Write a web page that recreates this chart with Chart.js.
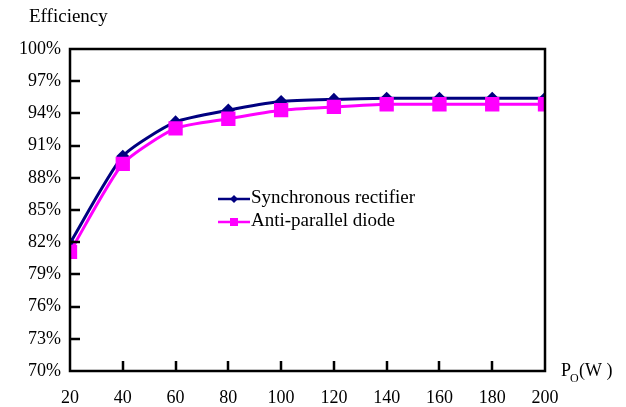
<!DOCTYPE html>
<html>
<head>
<meta charset="utf-8">
<script src="https://cdn.jsdelivr.net/npm/chart.js@4"></script>
<style>
  html, body { margin: 0; padding: 0; background: #fff; }
  #wrap { width: 626px; height: 407px; }
</style>
</head>
<body>
<div id="wrap"><canvas id="chart"></canvas></div>
<script>
const powerW = [20, 40, 60, 80, 100, 120, 140, 160, 180, 200];
const syncRect = [81.9, 90.0, 93.2, 94.3, 95.1, 95.3, 95.4, 95.4, 95.4, 95.4];
const antiDiode = [81.1, 89.3, 92.6, 93.5, 94.3, 94.6, 94.85, 94.85, 94.85, 94.85];
const yTicks = [70, 73, 76, 79, 82, 85, 88, 91, 94, 97, 100];

const FONT = 'Liberation Serif, Times New Roman, serif';

const toPoints = (vals) => vals.map((v, i) => ({ x: powerW[i], y: v }));

// frame, inward ticks, titles, legend
const decorations = {
  id: 'decorations',
  afterDatasetsDraw(chart) {
    const { ctx, chartArea: a, scales } = chart;
    ctx.save();
    ctx.strokeStyle = '#000';
    ctx.lineWidth = 2.5;
    ctx.strokeRect(a.left, a.top, a.right - a.left, a.bottom - a.top);

    ctx.beginPath();
    yTicks.slice(1, -1).forEach(v => {
      const y = Math.round(scales.y.getPixelForValue(v));
      ctx.moveTo(a.left, y);
      ctx.lineTo(a.left + 10, y);
    });
    powerW.slice(1, -1).forEach(v => {
      const x = Math.round(scales.x.getPixelForValue(v));
      ctx.moveTo(x, a.bottom);
      ctx.lineTo(x, a.bottom - 10);
    });
    ctx.stroke();

    ctx.fillStyle = '#000';
    ctx.textBaseline = 'alphabetic';
    ctx.textAlign = 'left';
    ctx.font = '19px ' + FONT;
    ctx.fillText('Efficiency', 29, 22);

    ctx.font = '18px ' + FONT;
    ctx.fillText('P', 561, 376);
    ctx.font = '12px ' + FONT;
    ctx.fillText('O', 570, 382);
    ctx.font = '18px ' + FONT;
    ctx.fillText('(W )', 579, 376);

    // legend
    const rows = [
      { ds: chart.data.datasets[0], y: 199 },
      { ds: chart.data.datasets[1], y: 222 },
    ];
    rows.forEach(r => {
      ctx.strokeStyle = r.ds.borderColor;
      ctx.lineWidth = 2.5;
      ctx.beginPath();
      ctx.moveTo(218, r.y);
      ctx.lineTo(250, r.y);
      ctx.stroke();
      ctx.fillStyle = r.ds.pointBackgroundColor;
      ctx.beginPath();
      if (r.ds.pointStyle === 'rect') {
        ctx.rect(234 - 4, r.y - 4, 8, 8);
      } else {
        ctx.moveTo(234, r.y - 4);
        ctx.lineTo(238, r.y);
        ctx.lineTo(234, r.y + 4);
        ctx.lineTo(230, r.y);
        ctx.closePath();
      }
      ctx.fill();
      ctx.fillStyle = '#000';
      ctx.font = '19px ' + FONT;
      ctx.textBaseline = 'middle';
      ctx.fillText(r.ds.label, 251, r.y - 1);
    });
    ctx.restore();
  }
};

new Chart(document.getElementById('chart'), {
  type: 'line',
  data: {
    datasets: [
      {
        label: 'Synchronous rectifier',
        data: toPoints(syncRect),
        borderColor: '#000080',
        backgroundColor: '#000080',
        pointBackgroundColor: '#000080',
        pointBorderColor: '#000080',
        pointStyle: 'rectRot',
        pointRadius: 4.5,
        borderWidth: 3,
        tension: 0.2,
        order: 1,
      },
      {
        label: 'Anti-parallel diode',
        data: toPoints(antiDiode),
        borderColor: '#ff00ff',
        backgroundColor: '#ff00ff',
        pointBackgroundColor: '#ff00ff',
        pointBorderColor: '#ff00ff',
        pointStyle: 'rect',
        pointRadius: 8,
        borderWidth: 3,
        tension: 0.2,
        order: 0,
      },
    ],
  },
  options: {
    responsive: true,
    maintainAspectRatio: false,
    animation: false,
    layout: { padding: { top: 49, right: 81, left: 0, bottom: 0 } },
    plugins: {
      legend: { display: false },
      tooltip: { enabled: false },
    },
    scales: {
      x: {
        type: 'linear',
        min: 20,
        max: 200,
        grid: { display: false, drawTicks: false },
        border: { display: false },
        afterFit: (s) => { s.height = 36; },
        ticks: {
          stepSize: 20,
          padding: 16,
          color: '#000',
          maxRotation: 0,
          font: { family: FONT, size: 18 },
        },
      },
      y: {
        min: 70,
        max: 100,
        grid: { display: false, drawTicks: false },
        border: { display: false },
        afterFit: (s) => { s.width = 70; },
        afterBuildTicks: (s) => { s.ticks = yTicks.map(v => ({ value: v })); },
        ticks: {
          padding: 9,
          color: '#000',
          font: { family: FONT, size: 18 },
          callback: (v) => v + '%',
        },
      },
    },
  },
  plugins: [decorations],
});
</script>
</body>
</html>
